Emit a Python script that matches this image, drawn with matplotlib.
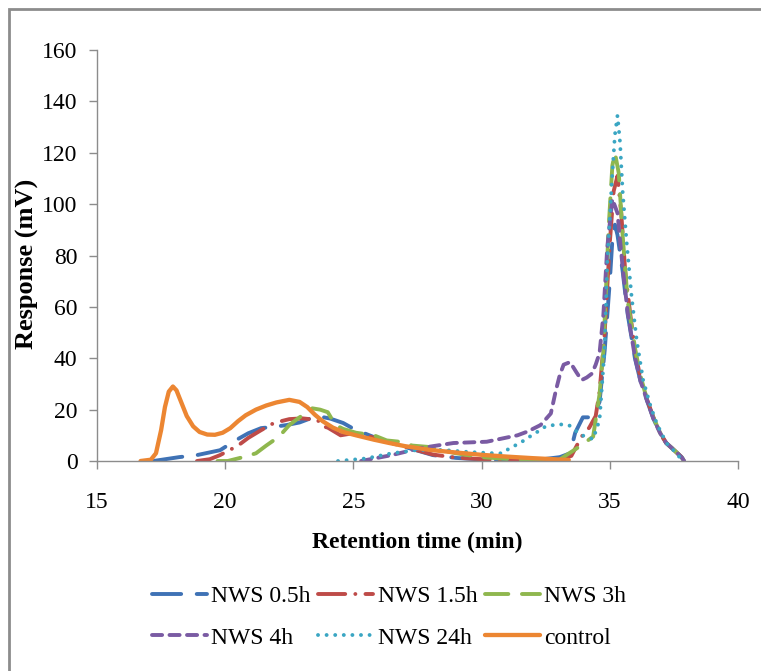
import matplotlib
matplotlib.use("Agg")
import matplotlib.pyplot as plt
from matplotlib.patches import Rectangle

# ---------------- data ----------------
t_05 = [17.2, 18.2, 18.9, 19.8, 20.4, 20.9, 21.4, 21.9, 22.4, 22.9, 23.3, 23.6, 24.1, 24.6, 25.1, 25.5, 26.0, 27.0,
        28.1, 29.0, 30.0, 31.0, 32.0, 33.05, 33.45, 33.65, 33.95, 34.2, 34.4, 34.6, 34.8, 35.0, 35.1, 35.2, 35.3,
        35.5, 35.7, 35.98, 36.2, 36.45, 36.7, 36.96, 37.2, 37.5, 37.8, 37.9]
v_05 = [0, 1.5, 2.3, 4.2, 8, 10.8, 12.8, 13.3, 14, 15, 16.5, 17.5, 16.5, 14.8, 12, 10.5, 8.5, 5.5,
        2.3, 1.2, 0.6, 0.3, 0.2, 1.5, 3, 11, 17, 17, 18.7, 23, 43, 70, 86, 92, 88,
        74, 57, 40, 31, 23.5, 16.5, 10.8, 7, 4.3, 1.5, 0]

t_15 = [18.9, 19.4, 19.8, 20.5, 20.9, 21.4, 21.9, 22.5, 23.0, 23.6, 23.8, 24.0, 24.5, 25.1, 26.0, 27.0, 28.1, 29.0,
        30.0, 31.0, 32.0, 33.0, 33.5, 33.9, 34.2, 34.45, 34.6, 34.8, 35.0, 35.15, 35.3, 35.45, 35.6, 35.8, 36.0,
        36.2, 36.45, 36.7, 36.96, 37.2, 37.5, 37.8, 37.9]
v_15 = [0, 0.7, 2.3, 6, 9, 12, 14.8, 16.3, 16.6, 16, 13.5, 13, 10, 11, 8.5, 5.5, 2.5, 1.3,
        0.7, 0.4, 0.2, 0.3, 2, 9.5, 13, 17.5, 27, 50, 85, 105, 111, 96, 74, 57, 42,
        32, 24, 17, 11, 7, 4.3, 1.5, 0]

t_3 = [19.7, 20.1, 20.7, 21.2, 21.6, 22.1, 22.5, 22.9, 23.4, 23.7, 24.0, 24.3, 24.6, 25.1, 25.8, 26.3, 26.8, 27.3,
       27.9, 29.0, 30.0, 31.0, 32.0, 33.0, 33.8, 34.35, 34.6, 34.75, 34.95, 35.1, 35.2, 35.35, 35.5, 35.7, 36.0,
       36.2, 36.45, 36.7, 36.96, 37.2, 37.5, 37.8, 37.9]
v_3 = [0, 0, 1.5, 3, 6, 9.5, 14, 17, 20.5, 20, 19, 14, 12.5, 11, 10, 8, 7.5, 6,
       5.5, 3, 1.5, 0.8, 0.4, 0.3, 5.5, 9.5, 26, 43, 90, 115, 120, 112, 88, 62, 43,
       33, 24, 17, 11, 7, 4.3, 1.5, 0]

t_4 = [25.3, 26.5, 27.6, 28.9, 30.2, 31.4, 31.8, 32.3, 32.7, 32.9, 33.05, 33.2, 33.45, 33.7, 33.9, 34.1, 34.3, 34.45,
       34.6, 34.75, 34.9, 35.1, 35.3, 35.5, 35.7, 35.98, 36.2, 36.45, 36.7, 36.96, 37.2, 37.5, 37.8, 37.9]
v_4 = [0, 2.3, 5, 7, 7.5, 10, 11.5, 14, 18.5, 27.6, 33.5, 37.5, 38.5, 34.5, 31.5, 32.5, 34, 37.5,
       42, 57, 83, 102, 96.5, 75.5, 57.6, 40.5, 31, 23.7, 16.5, 10.9, 7, 4.3, 1.5, 0]

t_24 = [24.4, 25.5, 26.5, 27.5, 28.5, 29.5, 30.5, 30.8, 31.1, 31.5, 31.8, 32.2, 32.5, 33.0, 33.4, 33.6, 33.8, 34.1,
        34.35, 34.6, 34.8, 34.9, 35.0, 35.1, 35.2, 35.3, 35.4, 35.5, 35.65, 35.85, 36.05, 36.3, 36.6, 36.8, 37.0,
        37.25, 37.5, 37.85]
v_24 = [0, 1, 3, 4.3, 4.3, 3.5, 3, 3, 5, 7, 9, 11.5, 13.5, 14.3, 14, 12.5, 10.5, 9.3,
        8.5, 16, 44, 77, 95, 112, 127, 134.5, 124, 105, 86, 64, 47, 31.5, 21, 15.5, 11,
        6.5, 4, 0]

t_ctrl = [16.7, 17.1, 17.3, 17.5, 17.65, 17.8, 17.96, 18.1, 18.3, 18.5, 18.75, 19.0, 19.3, 19.6, 19.9, 20.2, 20.5,
          20.8, 21.2, 21.6, 22.0, 22.5, 22.9, 23.2, 23.5, 23.8, 24.2, 24.6, 25.1, 25.8, 26.4, 27.0, 28.0, 29.0,
          30.0, 31.0, 32.0, 33.0, 33.4]
v_ctrl = [0, 0.5, 3, 12, 21, 27, 29, 27.5, 22.5, 17.5, 13.5, 11.3, 10.3, 10.2, 11, 12.8, 15.5,
          17.8, 20, 21.6, 22.8, 23.8, 23, 21, 18, 15.5, 13, 11.3, 10, 8.3, 7, 5.8, 4.3, 3.3,
          2.4, 1.7, 1.1, 0.6, 0.4]

labels = ["NWS 0.5h", "NWS 1.5h", "NWS 3h", "NWS 4h", "NWS 24h", "control"]
x_ticks = [15, 20, 25, 30, 35, 40]
y_ticks = [0, 20, 40, 60, 80, 100, 120, 140, 160]

# ---------------- style ----------------
plt.rcParams['font.family'] = ['Liberation Serif', 'DejaVu Serif']

colors = ["#3f72b5", "#be4b48", "#8fb74e", "#7a5ba3", "#3aa6c3", "#ec8632"]
dashes = [(7.5, 4.0), (7.0, 2.6, 0.01, 2.6), (6.0, 3.5), (2.6, 1.9), (0.01, 2.2), None]
series = [(t_05, v_05), (t_15, v_15), (t_3, v_3), (t_4, v_4), (t_24, v_24), (t_ctrl, v_ctrl)]
lws = [2.8, 2.8, 2.8, 2.8, 2.8, 3.1]

fig = plt.figure(figsize=(7.61, 6.71), dpi=100)
ax = fig.add_axes([97 / 761, 1 - 461 / 671, (738 - 97) / 761, (461 - 50) / 671])

handles = []
for (t, v), c, d, lab, lw in zip(series, colors, dashes, labels, lws):
    ln, = ax.plot(t, v, color=c, lw=lw, label=lab, solid_capstyle='round',
                  dash_capstyle='round', solid_joinstyle='round', dash_joinstyle='round')
    if d is not None:
        ln.set_dashes(d)
    handles.append(ln)

ax.set_xlim(15, 40)
ax.set_ylim(0, 160)
ax.set_xticks(x_ticks)
ax.set_yticks(y_ticks)
for s in ['top', 'right']:
    ax.spines[s].set_visible(False)
for s in ['left', 'bottom']:
    ax.spines[s].set_color('#8c8c8c')
    ax.spines[s].set_linewidth(1.0)
ax.tick_params(axis='both', colors='#8c8c8c', labelcolor='black', labelsize=17, length=6, width=1.0,
               direction='out')
ax.tick_params(axis='y', pad=8)
ax.tick_params(axis='x', pad=16)

ax.set_xlabel("Retention time (min)", fontsize=17, fontweight='bold', labelpad=14)
ax.set_ylabel("Response (mV)", fontsize=19, fontweight='bold')
ax.yaxis.set_label_coords((39 - 97) / 641, (461 - 264) / 411)

order = [0, 3, 1, 4, 2, 5]
leg = fig.legend([handles[i] for i in order], [labels[i] for i in order], ncol=3,
                 loc='center', bbox_to_anchor=(389 / 761, 1 - 617 / 671), frameon=False,
                 fontsize=17, handlelength=2.33, handletextpad=0.2, columnspacing=0.3,
                 labelspacing=0.85)

fig.patches.append(Rectangle((9 / 761, -0.1), 1.2, 1 - 9 / 671 + 0.1, transform=fig.transFigure,
                             fill=False, edgecolor='#8c8c8c', lw=2.0))

fig.savefig("out.png", dpi=100)
